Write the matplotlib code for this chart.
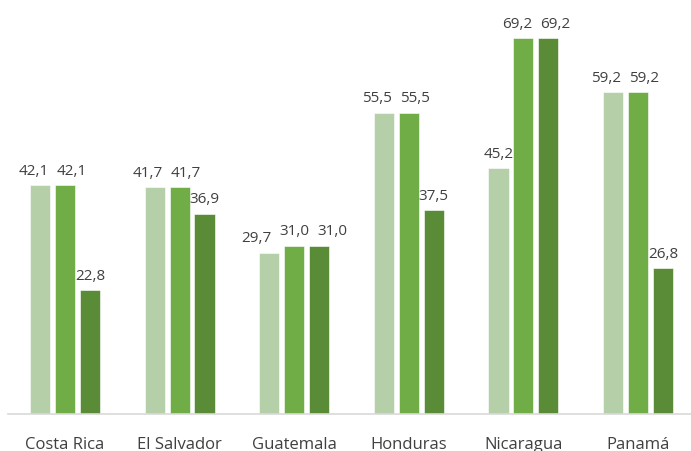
import numpy as np
import matplotlib.pyplot as plt

plt.rcParams['font.family'] = ['Open Sans', 'DejaVu Sans']

categories = ['Costa Rica', 'El Salvador', 'Guatemala', 'Honduras', 'Nicaragua', 'Panamá']
serie_1 = [42.1, 41.7, 29.7, 55.5, 45.2, 59.2]
serie_2 = [42.1, 41.7, 31.0, 55.5, 69.2, 59.2]
serie_3 = [22.8, 36.9, 31.0, 37.5, 69.2, 26.8]
colors = ['#B5D0A8', '#70AD47', '#5A8C37']

fig = plt.figure(figsize=(6.91, 4.52), dpi=100)
ax = fig.add_axes([7.7 / 691, 37 / 452, 687.6 / 691, 415 / 452])

x = np.arange(len(categories))
step = 0.218
series = [serie_1, serie_2, serie_3]
for i, (vals, c) in enumerate(zip(series, colors)):
    ax.bar(x + (i - 1) * step, vals, width=0.176, color=c, edgecolor='white', linewidth=0.4)

# data labels: spread neighbours apart when they sit at about the same height
min_gap = 0.33   # in category units (~38 px)
for g in range(len(categories)):
    vals = [s[g] for s in series]
    pos = [g + (i - 1) * step for i in range(3)]
    clusters = [[0]]
    for i in range(1, 3):
        if abs(vals[i] - vals[i - 1]) < 3 and pos[i] - pos[i - 1] < min_gap:
            clusters[-1].append(i)
        else:
            clusters.append([i])
    lx = list(pos)
    for cl in clusters:
        if len(cl) > 1:
            mid = np.mean([pos[i] for i in cl])
            for k, i in enumerate(cl):
                lx[i] = mid + (k - (len(cl) - 1) / 2) * min_gap
    for i in range(3):
        ax.text(lx[i], vals[i] + 1.4, f'{vals[i]:.1f}'.replace('.', ','),
                ha='center', va='bottom', fontsize=11, color='#404040')

ax.set_xlim(-0.5, len(categories) - 0.5)
ax.set_ylim(0, 76.4)
ax.set_xticks(x)
ax.set_xticklabels(categories, fontsize=12, color='#404040')
ax.tick_params(axis='x', length=0, pad=16)
ax.set_yticks([])
for s in ['top', 'right', 'left']:
    ax.spines[s].set_visible(False)
ax.spines['bottom'].set_color('#D9D9D9')
ax.spines['bottom'].set_linewidth(1.2)

fig.savefig('out.png', dpi=100)
